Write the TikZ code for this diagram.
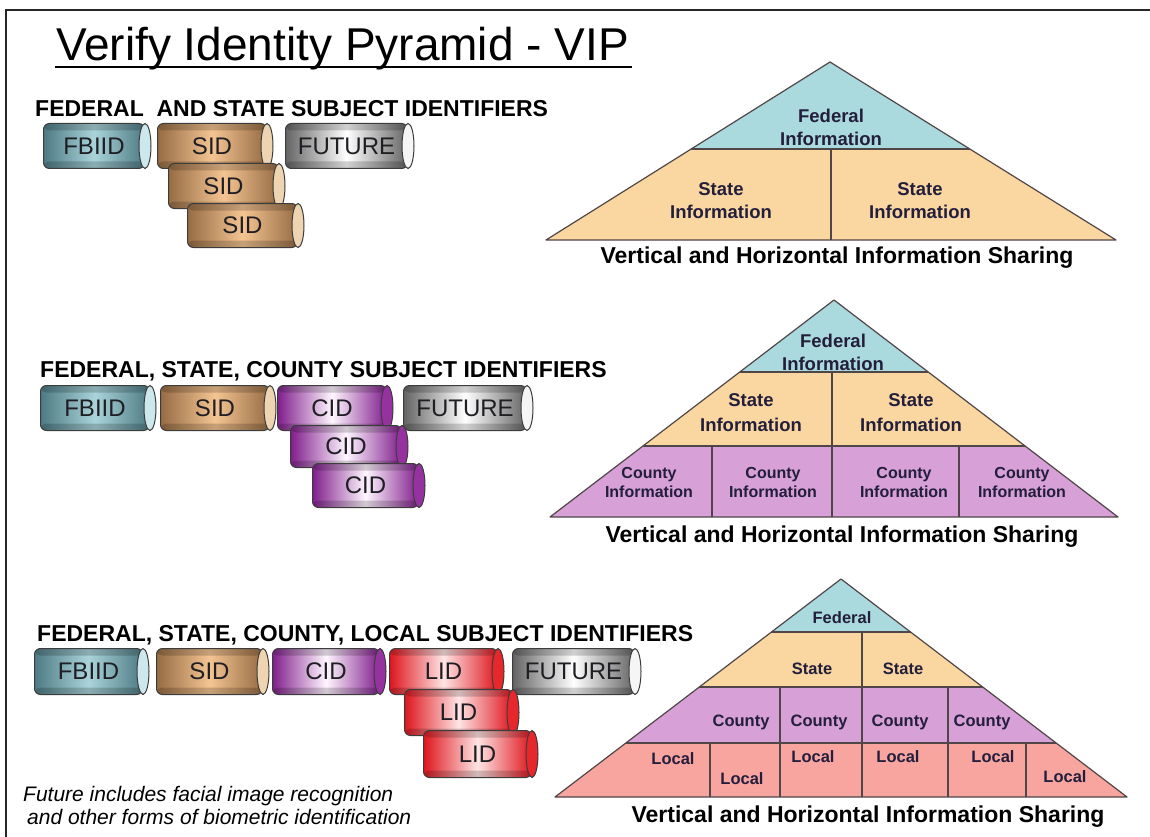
\documentclass[tikz,border=0pt]{standalone}
\usepackage{fontspec}
\setmainfont{Liberation Sans}
\usetikzlibrary{calc}
\definecolor{fedc}{RGB}{170,218,222}
\definecolor{statec}{RGB}{250,215,160}
\definecolor{countyc}{RGB}{215,160,215}
\definecolor{localc}{RGB}{248,165,160}
\definecolor{plc}{RGB}{80,70,72}
\definecolor{ptext}{RGB}{35,30,60}
\definecolor{cylln}{RGB}{60,60,60}
\definecolor{cyltx}{RGB}{30,30,35}
\definecolor{fbo}{RGB}{78,122,132}
\definecolor{fbi}{RGB}{170,212,218}
\definecolor{fbcap}{RGB}{205,232,236}
\definecolor{sido}{RGB}{150,108,68}
\definecolor{sidi}{RGB}{244,196,146}
\definecolor{sidcap}{RGB}{238,212,176}
\definecolor{cido}{RGB}{128,30,140}
\definecolor{cidi}{RGB}{255,246,255}
\definecolor{cidcap}{RGB}{150,50,160}
\definecolor{lido}{RGB}{222,22,30}
\definecolor{lidi}{RGB}{255,228,228}
\definecolor{lidcap}{RGB}{230,40,45}
\definecolor{futo}{RGB}{100,100,100}
\definecolor{futi}{RGB}{255,255,255}
\definecolor{futcap}{RGB}{245,245,245}
\tikzset{
  cylbody/.style={rectangle, rounded corners=6pt, draw=cylln, line width=1pt, inner sep=0pt,
    text=cyltx, font=\fontsize{24}{28}\selectfont,
    path picture={
      \fill[black, opacity=0.18] (path picture bounding box.north west) rectangle ([yshift=-7pt]path picture bounding box.north east);
      \fill[black, opacity=0.18] (path picture bounding box.south west) rectangle ([yshift=7pt]path picture bounding box.south east);
    }},
  cylend/.style={draw=cylln, line width=1pt},
  fbs/.style={left color=fbo, right color=fbo, middle color=fbi},
  fbscap/.style={fill=fbcap},
  sids/.style={left color=sido, right color=sido, middle color=sidi},
  sidscap/.style={fill=sidcap},
  cids/.style={left color=cido, right color=cido, middle color=cidi},
  cidscap/.style={fill=cidcap},
  lids/.style={left color=lido, right color=lido, middle color=lidi},
  lidscap/.style={fill=lidcap},
  futs/.style={left color=futo, right color=futo, middle color=futi},
  futscap/.style={fill=futcap},
  hdr/.style={anchor=base west, inner sep=0pt, font=\fontsize{23}{27}\selectfont\bfseries},
  captxt/.style={anchor=base, inner sep=0pt, font=\fontsize{23}{27}\selectfont\bfseries},
  pline/.style={draw=plc, line width=1.2pt, line join=round},
  ptxtA/.style={inner sep=0pt, align=center, text=ptext, font=\fontsize{18.5}{23}\selectfont\bfseries},
  ptxtB/.style={inner sep=0pt, align=center, text=ptext, font=\fontsize{16}{19}\selectfont\bfseries},
  ptxtC/.style={inner sep=0pt, align=center, text=ptext, font=\fontsize{16.5}{19}\selectfont\bfseries},
  fnote/.style={anchor=base west, inner sep=0pt, font=\fontsize{21}{25}\selectfont\itshape},
}
\newcommand{\mycyl}[7]{%
  \node[cylbody, #6, minimum width={#4-#2-6}, minimum height={#5-#3}, anchor=north west] (#1) at (#2,#3) {#7};
  \draw[cylend, #6cap] (#1.east) ellipse [x radius=6, y radius={(#5-#3)/2}];
}
\begin{document}
\begin{tikzpicture}[x=1pt,y=-1pt]
\useasboundingbox (0,0) rectangle (1150,837);
\fill[white] (0,0) rectangle (1150,837);
% frame
\draw[line width=2.5pt, black!85] (5,10) -- (1150,10);
\draw[line width=2pt, black!85] (6,10) -- (6,837);
% title
\node[anchor=base west, inner sep=0pt, font=\fontsize{46}{50}\selectfont] (title) at (56,61) {Verify Identity Pyramid - VIP};
\draw[line width=2.5pt] (55,67) -- (632,67);

% ---------- Row 1 ----------
\node[hdr] (h1) at (35,117) {FEDERAL\ \ AND STATE SUBJECT IDENTIFIERS};
\mycyl{r1fb}{43}{123}{150}{168}{fbs}{FBIID}
\mycyl{r1fut}{285}{123}{413}{168}{futs}{FUTURE}
\mycyl{r1sa}{157}{123}{272}{168}{sids}{SID}
\mycyl{r1sb}{168}{163}{284}{208}{sids}{SID}
\mycyl{r1sc}{187}{203}{303}{247}{sids}{SID}

% ---------- Row 2 ----------
\node[hdr] (h2) at (40,377) {FEDERAL, STATE, COUNTY SUBJECT IDENTIFIERS};
\mycyl{r2fb}{40}{385}{155}{430}{fbs}{FBIID}
\mycyl{r2sid}{160}{385}{275}{430}{sids}{SID}
\mycyl{r2fut}{403}{385}{532}{430}{futs}{FUTURE}
\mycyl{r2ca}{277}{385}{392}{430}{cids}{CID}
\mycyl{r2cb}{290}{425}{407}{467}{cids}{CID}
\mycyl{r2cc}{312}{463}{424}{507}{cids}{CID}

% ---------- Row 3 ----------
\node[hdr] (h3) at (37,641) {FEDERAL, STATE, COUNTY, LOCAL SUBJECT IDENTIFIERS};
\mycyl{r3fb}{34}{648}{148}{694}{fbs}{FBIID}
\mycyl{r3sid}{156}{648}{268}{694}{sids}{SID}
\mycyl{r3cid}{272}{648}{385}{694}{cids}{CID}
\mycyl{r3fut}{512}{648}{640}{694}{futs}{FUTURE}
\mycyl{r3la}{389}{648}{503}{694}{lids}{LID}
\mycyl{r3lb}{404}{689}{518}{735}{lids}{LID}
\mycyl{r3lc}{423}{730}{537}{777}{lids}{LID}

% footnote
\node[fnote] (fn1) at (23,801) {Future includes facial image recognition};
\node[fnote] (fn2) at (27,824) {and other forms of biometric identification};

% ---------- Pyramid 1 ----------
\coordinate (a1) at (830,62);
\coordinate (l1) at (546,240);
\coordinate (r1) at (1116,240);
\coordinate (a1l) at ($(a1)!0.4888!(l1)$);
\coordinate (a1r) at ($(a1)!0.4888!(r1)$);
\fill[statec] (a1l) -- (a1r) -- (r1) -- (l1) -- cycle;
\fill[fedc] (a1) -- (a1r) -- (a1l) -- cycle;
\draw[pline] (a1l) -- (a1r);
\draw[pline] (831,149) -- (831,240);
\draw[pline] (a1) -- (r1) -- (l1) -- cycle;
\node[ptxtA] (p1f) at (831,127) {Federal\\Information};
\node[ptxtA] (p1s1) at (721,201) {State\\Information};
\node[ptxtA] (p1s2) at (920,201) {State\\Information};
\node[captxt] (c1) at (837,263) {Vertical and Horizontal Information Sharing};

% ---------- Pyramid 2 ----------
\coordinate (a2) at (834,300);
\coordinate (l2) at (550,517);
\coordinate (r2) at (1118,517);
\coordinate (a2l) at ($(a2)!0.3318!(l2)$);
\coordinate (a2r) at ($(a2)!0.3318!(r2)$);
\coordinate (b2l) at ($(a2)!0.6728!(l2)$);
\coordinate (b2r) at ($(a2)!0.6728!(r2)$);
\fill[countyc] (b2l) -- (b2r) -- (r2) -- (l2) -- cycle;
\fill[statec] (a2l) -- (a2r) -- (b2r) -- (b2l) -- cycle;
\fill[fedc] (a2) -- (a2r) -- (a2l) -- cycle;
\draw[pline] (a2l) -- (a2r);
\draw[pline] (b2l) -- (b2r);
\draw[pline] (832,372) -- (832,446);
\foreach \xx in {712,832,959} \draw[pline] (\xx,446) -- (\xx,517);
\draw[pline] (a2) -- (r2) -- (l2) -- cycle;
\node[ptxtA] (p2f) at (833,352) {Federal\\Information};
\node[ptxtA, font=\fontsize{18.5}{25}\selectfont\bfseries] (p2s1) at (751,413) {State\\Information};
\node[ptxtA, font=\fontsize{18.5}{25}\selectfont\bfseries] (p2s2) at (911,413) {State\\Information};
\node[ptxtB] (p2c1) at (649,482) {County\\Information};
\node[ptxtB] (p2c2) at (773,482) {County\\Information};
\node[ptxtB] (p2c3) at (904,482) {County\\Information};
\node[ptxtB] (p2c4) at (1022,482) {County\\Information};
\node[captxt] (c2) at (842,542) {Vertical and Horizontal Information Sharing};

% ---------- Pyramid 3 ----------
\coordinate (a3) at (841,579);
\coordinate (l3) at (555,797);
\coordinate (r3) at (1127,797);
\coordinate (a3l) at ($(a3)!0.2431!(l3)$);
\coordinate (a3r) at ($(a3)!0.2431!(r3)$);
\coordinate (b3l) at ($(a3)!0.4954!(l3)$);
\coordinate (b3r) at ($(a3)!0.4954!(r3)$);
\coordinate (c3l) at ($(a3)!0.7523!(l3)$);
\coordinate (c3r) at ($(a3)!0.7523!(r3)$);
\fill[localc] (c3l) -- (c3r) -- (r3) -- (l3) -- cycle;
\fill[countyc] (b3l) -- (b3r) -- (c3r) -- (c3l) -- cycle;
\fill[statec] (a3l) -- (a3r) -- (b3r) -- (b3l) -- cycle;
\fill[fedc] (a3) -- (a3r) -- (a3l) -- cycle;
\draw[pline] (a3l) -- (a3r);
\draw[pline] (b3l) -- (b3r);
\draw[pline] (c3l) -- (c3r);
\draw[pline] (862,632) -- (862,687);
\foreach \xx in {780,862,948} \draw[pline] (\xx,687) -- (\xx,743);
\foreach \xx in {710,780,862,948,1026} \draw[pline] (\xx,743) -- (\xx,797);
\draw[pline] (a3) -- (r3) -- (l3) -- cycle;
\node[ptxtC] (p3f) at (842,618) {Federal};
\node[ptxtC] (p3s1) at (812,669) {State};
\node[ptxtC] (p3s2) at (903,669) {State};
\node[ptxtC] (p3c1) at (741,722) {County};
\node[ptxtC] (p3c2) at (819,722) {County};
\node[ptxtC] (p3c3) at (900,722) {County};
\node[ptxtC] (p3c4) at (982,722) {County};
\node[ptxtC] (p3l1) at (673,759) {Local};
\node[ptxtC] (p3l2) at (742,779) {Local};
\node[ptxtC] (p3l3) at (813,757) {Local};
\node[ptxtC] (p3l4) at (898,757) {Local};
\node[ptxtC] (p3l5) at (993,757) {Local};
\node[ptxtC] (p3l6) at (1065,777) {Local};
\node[captxt] (c3) at (868,822) {Vertical and Horizontal Information Sharing};
\end{tikzpicture}
\end{document}
